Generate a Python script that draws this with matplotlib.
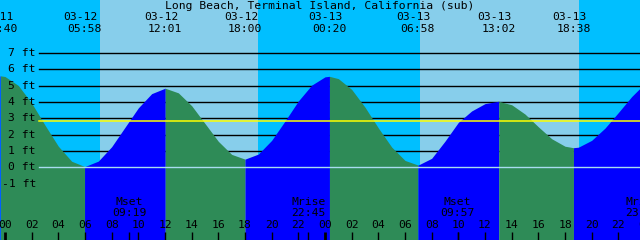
import numpy as np
import matplotlib
matplotlib.use("Agg")
import matplotlib.pyplot as plt
from matplotlib import transforms

title = "Long Beach, Terminal Island, California (sub)"

# high / low tides (date, clock, ft)
tide_dates = ["03-11", "03-12", "03-12", "03-12", "03-13", "03-13", "03-13", "03-13"]
tide_clock = ["23:40", "05:58", "12:01", "18:00", "00:20", "06:58", "13:02", "18:38"]
tide_ft = [5.60, 0.05, 4.84, 0.50, 5.57, 0.14, 4.04, 1.20]

# tide height every hour from 03-12 00:00
hourly_ft = [5.56, 5.01, 3.93, 2.58, 1.29, 0.37, 0.05, 0.38, 1.26, 2.45, 3.64, 4.51,
             4.84, 4.56, 3.77, 2.68, 1.59, 0.79, 0.50, 0.81, 1.65, 2.83, 4.06, 5.03,
             5.54, 5.43, 4.77, 3.68, 2.41, 1.24, 0.42, 0.14, 0.55, 1.60, 2.75, 3.45,
             3.90, 4.04, 3.83, 3.26, 2.48, 1.75, 1.29, 1.23, 1.65, 2.40, 3.35, 4.33]
edge_hours = [-0.375, 47.625]
edge_ft = [5.59, 4.84]

# sunrise / sunset
sun_dates = ["03-12", "03-12", "03-13", "03-13"]
sun_clock = ["07:07", "18:59", "07:06", "19:03"]

# moon events
moon_names = ["Mset", "Mrise", "Mset", "Mrise"]
moon_dates = ["03-12", "03-12", "03-13", "03-13"]
moon_clock = ["09:19", "22:45", "09:57", "23:50"]

msl_ft = 2.85
ft_levels = [-1, 0, 1, 2, 3, 4, 5, 6, 7]


def to_hours(date, clock):
    day = int(date.split("-")[1]) - 12
    hh, mm = clock.split(":")
    return day * 24 + int(hh) + int(mm) / 60


tide_h = [to_hours(d, c) for d, c in zip(tide_dates, tide_clock)]
sun_h = [to_hours(d, c) for d, c in zip(sun_dates, sun_clock)]
moon_h = [to_hours(d, c) for d, c in zip(moon_dates, moon_clock)]

t = np.concatenate([edge_hours[:1], np.arange(len(hourly_ft)), tide_h, edge_hours[1:]])
h = np.concatenate([edge_ft[:1], hourly_ft, tide_ft, edge_ft[1:]])
order = np.argsort(t, kind="stable")
t, h = t[order], h[order]

NIGHT = "#00BFFF"
DAY = "#87CEEB"
RISE = "#0000FF"
FALL = "#2E8B57"

fig = plt.figure(figsize=(6.4, 2.4), dpi=100)
ax = fig.add_axes([0, 0, 1, 1])
ax.set_axis_off()
x0, x1 = edge_hours
y0, y1 = -4.452, 10.245
ax.set_xlim(x0, x1)
ax.set_ylim(y0, y1)

# day / night background
bounds = [x0] + sun_h + [x1]
for i in range(len(bounds) - 1):
    ax.axvspan(bounds[i], bounds[i + 1], color=NIGHT if i % 2 == 0 else DAY, lw=0, zorder=0)

# foot lines (under the water)
for lv in ft_levels:
    if lv not in (-1, 0):
        ax.axhline(lv, xmin=39 / 640, xmax=1, color="black", lw=1.0, zorder=1)

# water, blue on flood and green on ebb
cuts = [x0] + tide_h + [x1]
for a, b in zip(cuts[:-1], cuts[1:]):
    m = (t >= a) & (t <= b)
    seg_t, seg_h = t[m], h[m]
    col = RISE if seg_h[-1] > seg_h[0] else FALL
    ax.fill_between(seg_t, seg_h, y0, color=col, lw=0, zorder=2)

ax.axhline(0, xmin=39 / 640, xmax=1, color="#a8dcf0", lw=1.0, zorder=3)
ax.axhline(msl_ft, xmin=39 / 640, xmax=1, color="#FFFF00", lw=1.1, zorder=3)

font = dict(family="DejaVu Sans Mono", fontsize=8.2, color="black", zorder=5)
ylab = transforms.blended_transform_factory(ax.transAxes, ax.transData)
for lv in ft_levels:
    ax.text(36 / 640, lv, "%d ft" % lv, transform=ylab, ha="right", va="center", **font)

top = ax.get_xaxis_transform()
ax.text(0.5, 1 - 6 / 240, title, transform=ax.transAxes, ha="center", va="center", **font)
for hr, d, c in zip(tide_h, tide_dates, tide_clock):
    ax.text(hr - 0.3, 1 - 17.5 / 240, d, transform=top, ha="center", va="center", **font)
    ax.text(hr, 1 - 29 / 240, c, transform=top, ha="center", va="center", **font)

for hr, n, c in zip(moon_h, moon_names, moon_clock):
    ax.text(hr, 1 - 202 / 240, n, transform=top, ha="center", va="center", **font)
    ax.text(hr, 1 - 213.5 / 240, c, transform=top, ha="center", va="center", **font)

# hour ticks along the bottom
tick_top = 1 - 232 / 240
for hr in range(0, 50, 2):
    ax.text(hr, 1 - 225.5 / 240, "%02d" % (hr % 24), transform=top, ha="center", va="center", **font)
    ax.vlines(hr, 0, tick_top, transform=top, color="black",
              lw=2.0 if hr % 24 == 0 else 1.0, zorder=5)
ax.vlines(moon_h, 0, tick_top, transform=top, color="black", lw=1.0, zorder=5)

fig.savefig("out.png", dpi=100)
